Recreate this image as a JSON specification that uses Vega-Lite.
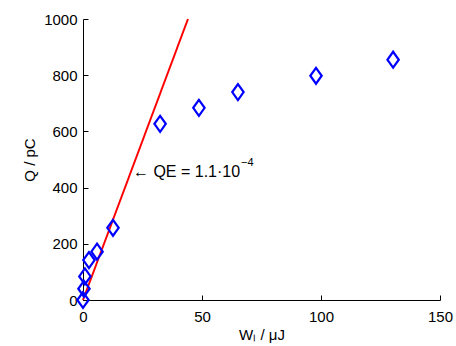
{
  "$schema": "https://vega.github.io/schema/vega-lite/v6.json",
  "width": 357,
  "height": 281,
  "autosize": {"type": "none"},
  "padding": {"left": 83, "top": 19, "right": 16, "bottom": 46},
  "background": "white",
  "config": {
    "view": {"stroke": null},
    "font": "Liberation Sans",
    "axis": {
      "grid": false,
      "domainColor": "#000000",
      "domainWidth": 1,
      "tickColor": "#000000",
      "tickWidth": 1,
      "tickSize": -5,
      "labelFlush": false,
      "labelColor": "#000000",
      "labelFontSize": 15,
      "labelFont": "Liberation Sans",
      "titleFont": "Liberation Sans",
      "titleFontSize": 15,
      "titleFontWeight": "normal",
      "titleColor": "#000000"
    }
  },
  "datasets": {
    "points": [
      {"W": 0, "Q": 0},
      {"W": 0.4, "Q": 40},
      {"W": 0.8, "Q": 84},
      {"W": 2.5, "Q": 142},
      {"W": 5.9, "Q": 172},
      {"W": 12.6, "Q": 257},
      {"W": 32.4, "Q": 627},
      {"W": 48.7, "Q": 684},
      {"W": 65.1, "Q": 740},
      {"W": 97.9, "Q": 798},
      {"W": 130.3, "Q": 855}
    ],
    "fit": [
      {"W": 0, "Q": 0},
      {"W": 44.1, "Q": 1000}
    ],
    "note": [
      {"W": 21, "Q": 455, "label": "← QE = 1.1·10", "sup": "−4"}
    ]
  },
  "layer": [
    {
      "data": {"name": "fit"},
      "mark": {"type": "line", "color": "#ff0000", "strokeWidth": 2},
      "encoding": {
        "x": {
          "field": "W", "type": "quantitative",
          "scale": {"domain": [0, 150], "nice": false},
          "axis": {"values": [0, 50, 100, 150], "format": "d", "title": "Wₗ / μJ", "labelPadding": 14, "titlePadding": 3}
        },
        "y": {
          "field": "Q", "type": "quantitative",
          "scale": {"domain": [0, 1000], "nice": false},
          "axis": {"values": [0, 200, 400, 600, 800, 1000], "format": "d", "title": "Q / pC", "labelPadding": 11, "titlePadding": 6}
        }
      }
    },
    {
      "data": {"name": "points"},
      "mark": {"type": "point", "shape": "M0,-1.4L1,0L0,1.4L-1,0Z", "size": 130, "filled": false, "color": "#0000ff", "strokeWidth": 2.2, "opacity": 1},
      "encoding": {
        "x": {"field": "W", "type": "quantitative"},
        "y": {"field": "Q", "type": "quantitative"}
      }
    },
    {
      "data": {"name": "note"},
      "mark": {"type": "text", "align": "left", "baseline": "middle", "fontSize": 16, "font": "Liberation Sans", "color": "#000000"},
      "encoding": {
        "x": {"field": "W", "type": "quantitative"},
        "y": {"field": "Q", "type": "quantitative"},
        "text": {"field": "label"}
      }
    },
    {
      "data": {"name": "note"},
      "mark": {"type": "text", "align": "left", "baseline": "middle", "fontSize": 11, "dx": 108, "dy": -9, "font": "Liberation Sans", "color": "#000000"},
      "encoding": {
        "x": {"field": "W", "type": "quantitative"},
        "y": {"field": "Q", "type": "quantitative"},
        "text": {"field": "sup"}
      }
    }
  ]
}
